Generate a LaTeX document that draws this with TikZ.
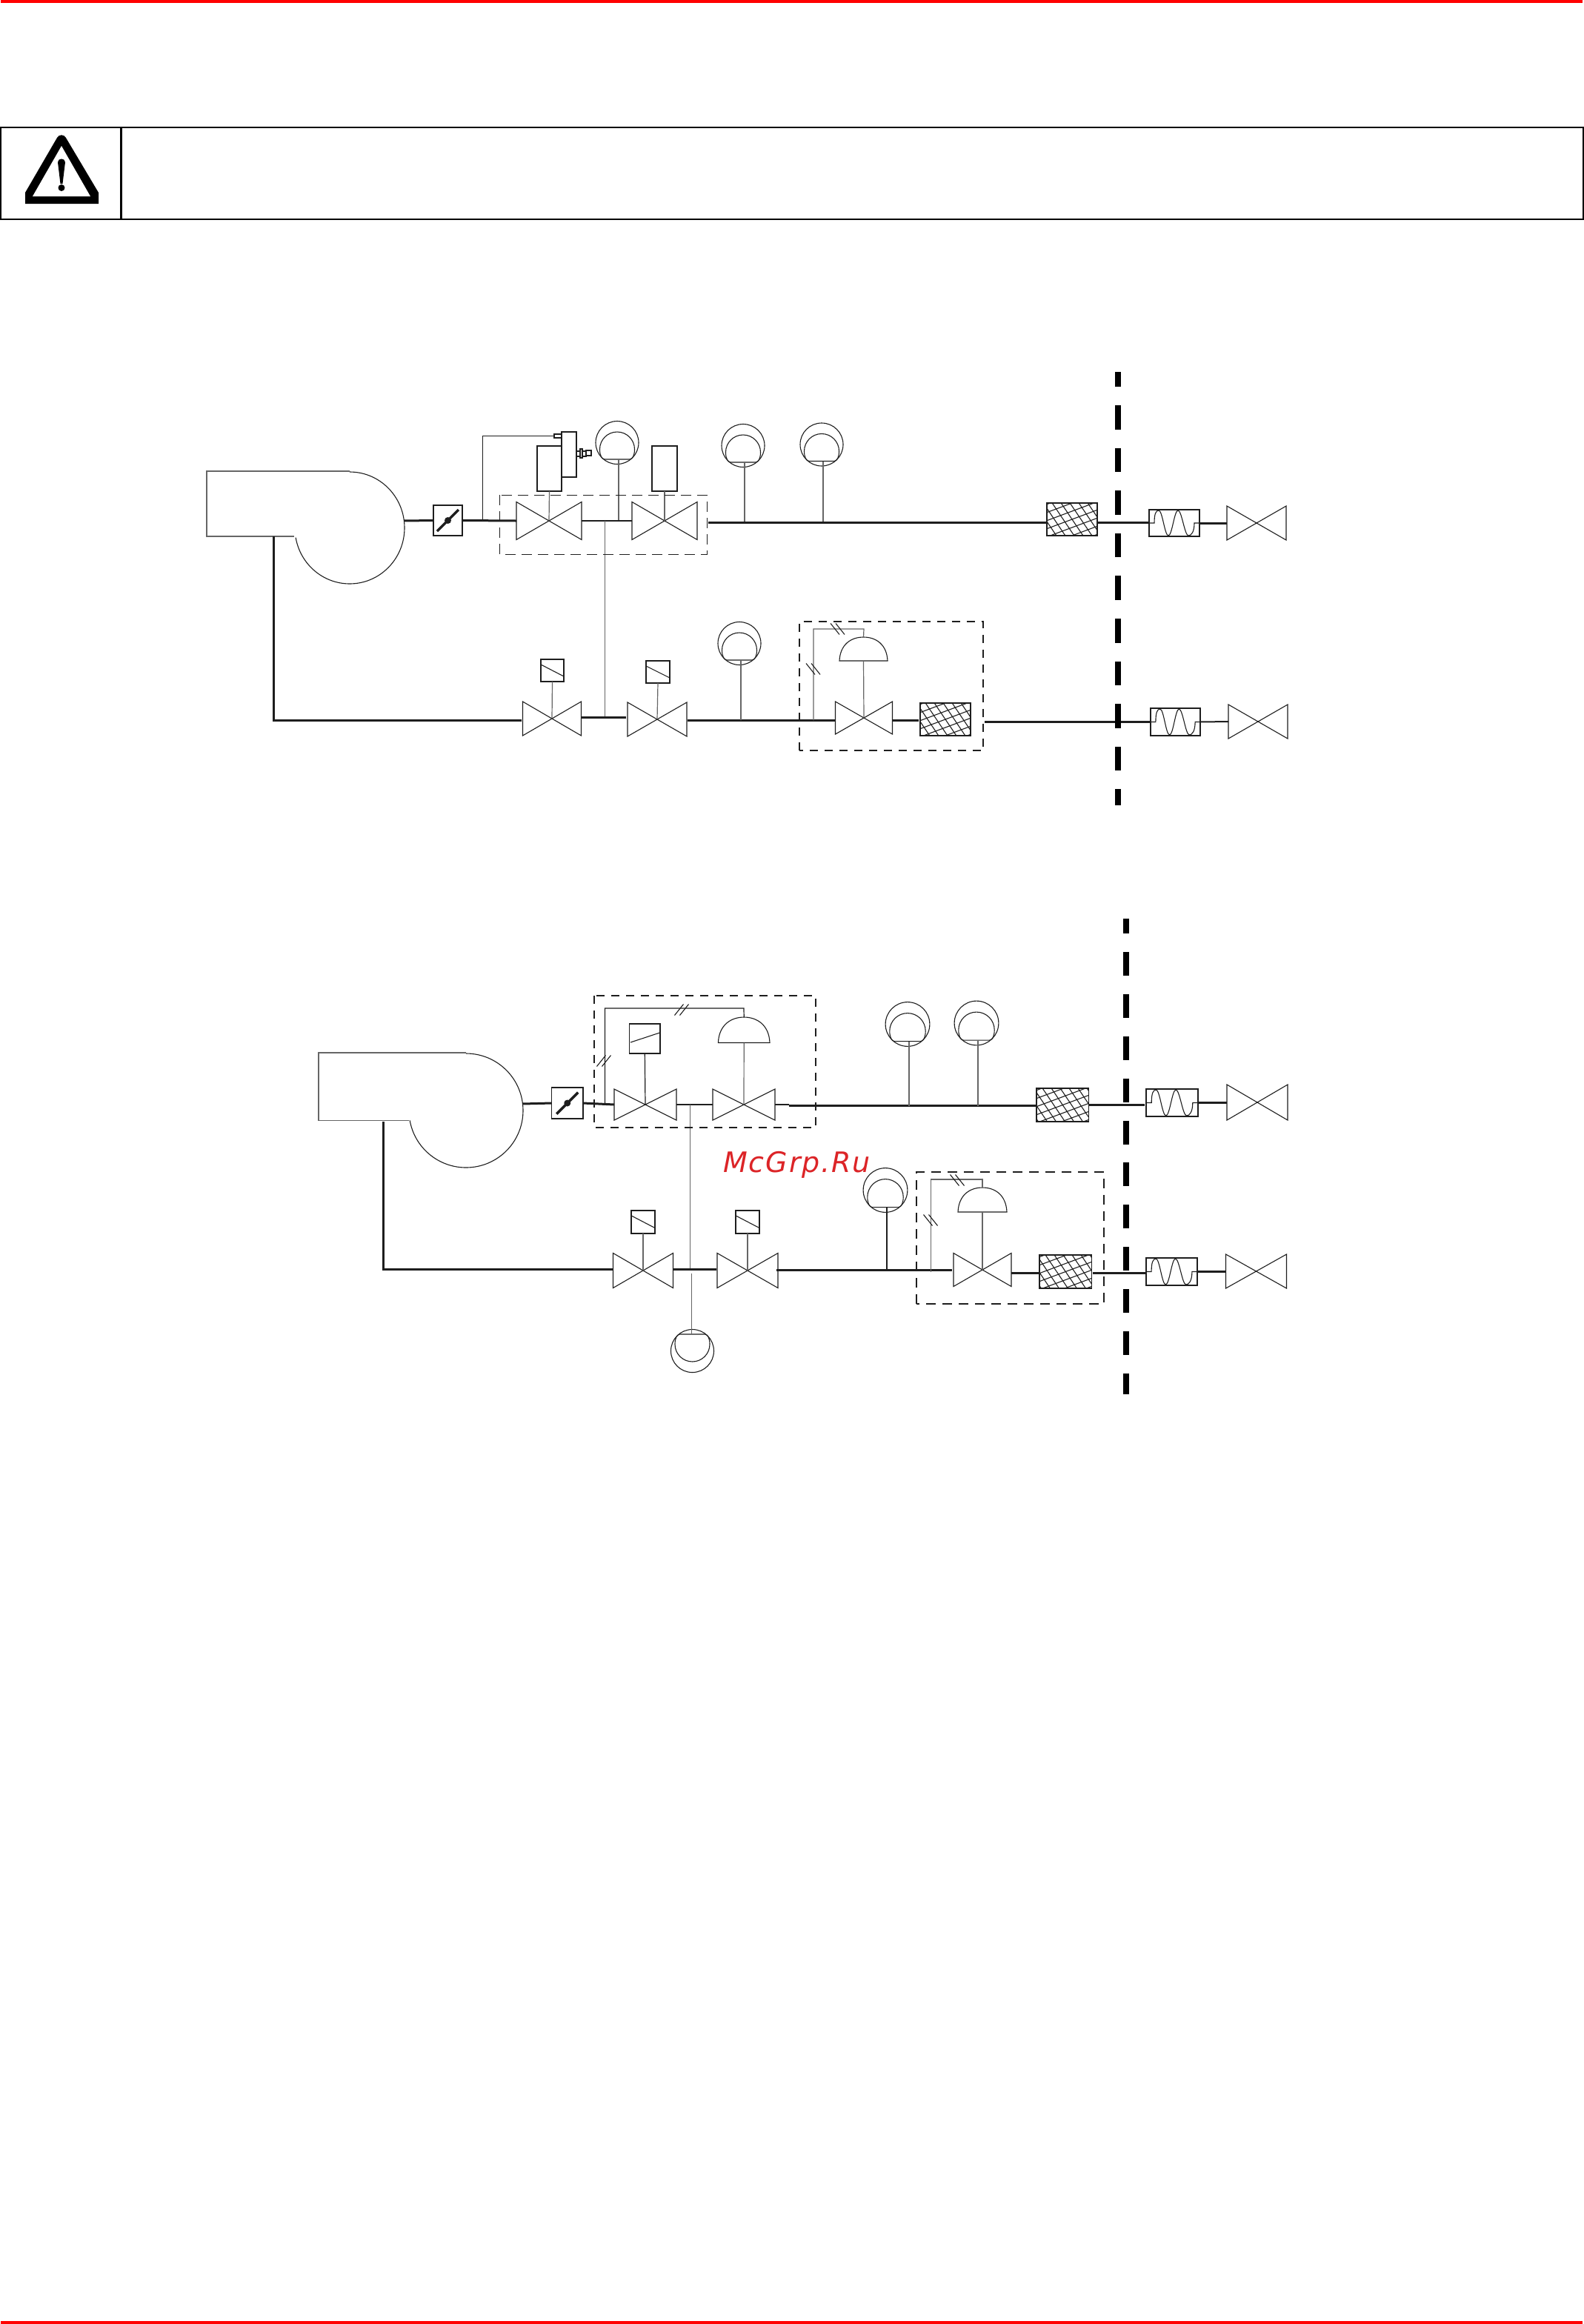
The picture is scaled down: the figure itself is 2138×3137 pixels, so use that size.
\documentclass[tikz,border=0pt]{standalone}
\usepackage{fontspec}
\newfontfamily\wmfont[LetterSpace=5]{DejaVu Sans}
\usetikzlibrary{calc}
\definecolor{ink}{HTML}{1E1E1E}
\definecolor{midg}{HTML}{666666}
\definecolor{rulered}{HTML}{FF0000}
\definecolor{wmred}{HTML}{DC2427}
\tikzset{
  part/.style={draw=ink,line width=1.1pt,line join=miter},
  partbox/.style={draw=ink,fill=white,line width=1.1pt,inner sep=0pt,outer sep=0pt,rectangle},
  stem/.style={draw=midg,line width=1.2pt},
  branch/.style={draw=ink,line width=1pt},
  thinlink/.style={draw=ink,line width=1.1pt},
  linkline/.style={draw=midg,line width=0.9pt},
  pipe/.style={draw=ink,line width=3pt},
  pipethin/.style={draw=ink,line width=2pt},
  casing/.style={draw=midg,line width=1.2pt},
  groupa/.style={draw=ink,line width=0.9pt,dash pattern=on 14pt off 8pt},
  groupb/.style={draw=ink,line width=2pt,dash pattern=on 11pt off 9pt},
  groupc/.style={draw=ink,line width=1.4pt,dash pattern=on 13pt off 9pt},
  limit/.style={draw=black,line width=8pt},
  header/.style={draw=black,line width=2pt,fill=none,inner sep=0pt,outer sep=0pt,rectangle},
}
\newcommand{\bxn}[5]{\node[partbox,minimum width={(#4-#2)*1pt},minimum height={(#5-#3)*1pt}] (#1) at ({(#2+#4)/2},{(#3+#5)/2}) {};}
\newcommand{\vlv}[5]{%
  \coordinate (#1) at (#2,#3);
  \coordinate (#1l) at ({#2-#4},#3);
  \coordinate (#1r) at ({#2+#4},#3);
  \draw[part,fill=white] ({#2-#4},{#3-#5}) -- ({#2+#4},{#3+#5}) -- ({#2+#4},{#3-#5}) -- ({#2-#4},{#3+#5}) -- cycle;}
% name, cx, cy, scale, flip(1 or -1)
\newcommand{\gge}[5]{%
  \coordinate (#1) at (#2,#3);
  \coordinate (#1s) at ({#2+2},{#3+#5*22.5*#4});
  \draw[part] (#2,#3) circle[radius={29*#4}];
  \begin{scope}[shift={(#2,#3)},xscale=#4,yscale={#4*#5}]
    \draw[part] (-17,22.5) -- (17,22.5) .. controls (21,22) and (23.5,17) .. (23.5,9)
      arc[start angle=0,end angle=-180,radius=23.5] .. controls (-23.5,17) and (-21,22) .. (-17,22.5);
  \end{scope}}
\newcommand{\fltr}[5]{%
  \bxn{#1}{#2}{#3}{#4}{#5}
  \begin{scope}
    \clip (#2,#3) rectangle (#4,#5);
    \path ({(#2+#4)/2},{(#3+#5)/2}) coordinate (tmpc);
    \foreach \k in {-6,...,6}{
      \draw[part] ($(tmpc)+({12*\k-29},-43)$) -- ($(tmpc)+({12*\k+29},43)$);
      \draw[part] ($(tmpc)+(-67,{11*\k+25})$) -- ($(tmpc)+(67,{11*\k-25})$);
    }
  \end{scope}
  \draw[part,line width=1.5pt] (#2,#3) rectangle (#4,#5);}
\newcommand{\flx}[5]{%
  \bxn{#1}{#2}{#3}{#4}{#5}
  \begin{scope}[shift={(#2,#3)},xscale={(#4-#2)/68},yscale={(#5-#3)/36}]
    \draw[part] (0,18) -- (7,18) .. controls (7,6) and (9,1) .. (13,1)
      .. controls (18,1) and (21,35) .. (26,35) .. controls (31,35) and (34,1) .. (39,1)
      .. controls (44,1) and (48,35) .. (53,35) .. controls (57,35) and (61,30) .. (61,18) -- (68,18);
  \end{scope}}
% name, x1, top, x2, base
\newcommand{\dme}[5]{%
  \coordinate (#1t) at ({(#2+#4)/2},#3);
  \coordinate (#1b) at ({(#2+#4)/2},#5);
  \draw[part,fill=white] (#2,#5) .. controls ({#2+1},{#3+10}) and ({(#2+#4)/2-17},#3) .. ({(#2+#4)/2},#3)
    .. controls ({(#2+#4)/2+17},#3) and ({#4-1},{#3+10}) .. (#4,#5) -- cycle;}
% cx, cy, sign
\newcommand{\tks}[3]{%
  \draw[part] ({#1-3.5-#3*6},{#2-7.5}) -- ({#1-3.5+#3*6},{#2+7.5});
  \draw[part] ({#1+3.5-#3*6},{#2-7.5}) -- ({#1+3.5+#3*6},{#2+7.5});}
\newcommand{\dmpr}[5]{%
  \bxn{#1}{#2}{#3}{#4}{#5}
  \draw[draw=ink,line width=3.5pt] ({(#2+#4)/2-14.5},{(#3+#5)/2+14.5}) -- ({(#2+#4)/2+14.5},{(#3+#5)/2-14.5});
  \fill[ink] ({(#2+#4)/2},{(#3+#5)/2}) circle[radius=4.5];}
% name, left, top, bottom, x top end, cx, radius, x end of scroll, (horizontal radius in #1)
\newcommand{\fan}[8]{%
  \draw[casing] (#5,#3) -- (#2,#3) -- (#2,#4) -- (#8,#4);
  \draw[part] (#5,{#3+1}) arc[start angle=-90,end angle=170,x radius=#1,y radius=#7];}
\begin{document}
\begin{tikzpicture}[x=1pt,y=-1pt]
\useasboundingbox (0,0) rectangle (2138,3137);
\fill[white] (0,0) rectangle (2138,3137);
% page rules
\coordinate (rt1) at (1,2); \coordinate (rt2) at (2136,2);
\coordinate (rb1) at (1,3135); \coordinate (rb2) at (2136,3135);
\draw[rulered,line width=4pt] (rt1) -- (rt2);
\draw[rulered,line width=4pt] (rb1) -- (rb2);
\begin{scope}[xshift=1pt]
% header
\node[header,minimum width=161.5pt,minimum height=124pt] (warncell) at (80.75,234) {};
\node[header,minimum width=1973.5pt,minimum height=124pt] (textcell) at (1149.25,234) {};
\fill[black] (33,275) -- (33,260) -- (76,186) .. controls (79,181) and (85,181) .. (88,186) -- (132,260) -- (132,275) -- cycle;
\fill[white] (82,197) -- (121,265) -- (43,265) -- cycle;
\fill[black] (77,219) .. controls (77,213) and (87,213) .. (87,219) -- (83.5,248) -- (80.5,248) -- cycle;
\fill[black] (82,253.5) circle[radius=4.5];

%%%%% DIAGRAM 1 %%%%%
\fan{74}{278}{636}{724}{471}{470}{75.5}{396}
\coordinate (f1r) at (544,703);
\coordinate (f1b) at (368.5,724);
\dmpr{d1}{584}{682}{623}{723}
\vlv{v1}{740}{703}{44}{25.5}
\vlv{v2}{896}{703}{44}{25.5}
\bxn{a2}{757}{583}{777}{644}
\bxn{a1}{724}{602}{757}{663}
\bxn{a3}{747}{586}{757}{591}
\bxn{a4}{777}{609}{790}{616}
\bxn{a5}{782}{606}{785}{618}
\bxn{a6}{790}{608}{797}{615}
\bxn{a7}{879}{602}{913}{663}
\gge{g1}{832}{597.5}{1}{1}
\coordinate (j0) at (650,703);
\draw[pipe] (f1r) -- (d1.west);
\draw[pipe] (d1.east) -- (v1l);
\draw[branch] (j0) |- (a3.west);
\draw[stem] (a1.south) -- (v1);
\draw[stem] (a7.south) -- (v2);
\draw[stem] (g1s) -- (g1s |- v1);
\draw[thinlink] (v1r) -- (v2l);
\coordinate (j1) at (815,703);
\coordinate (j2) at (815,968);
\draw[linkline] (j1) -- (j2);
\draw[groupa] (673,668) rectangle (953.5,748);
\coordinate (p1) at (955,705);
\gge{g2}{1002}{601.5}{1}{1}
\gge{g3}{1108}{600}{1}{1}
\draw[stem] (g2s) -- (g2s |- p1);
\draw[stem] (g3s) -- (g3s |- p1);
\fltr{fl1}{1412}{679}{1480}{723}
\flx{fx1}{1550}{688}{1618}{724}
\vlv{v3}{1695}{706}{40}{23}
\draw[pipe] (p1) -- (p1 -| fl1.west);
\draw[pipe] (p1 -| fl1.east) -- (p1 -| fx1.west);
\draw[pipe] (fx1.east) -- (v3l);
% lower line
\vlv{v4}{744}{970}{39.5}{23}
\vlv{v5}{886}{971}{40}{23}
\bxn{b4}{729}{890}{760}{920}
\bxn{b5}{871}{892}{903}{922}
\draw[part] (729,897) -- (760,913);
\draw[part] (871,899) -- (903,915);
\draw[stem] (b4.south) -- (v4);
\draw[stem] (b5.south) -- (v5);
\coordinate (c1) at (703,972);
\draw[pipe] (f1b) |- (c1);
\coordinate (m1) at (784,968); \coordinate (m2) at (844,968);
\draw[pipe] (m1) -- (m2);
\coordinate (c2) at (927,972); \coordinate (c3) at (1127,972);
\draw[pipe] (c2) -- (c3);
\gge{g4}{997}{868.5}{1}{1}
\draw[stem] (g4s) -- (g4s |- c2);
\vlv{v6}{1165}{969}{38.5}{22}
\dme{dm1}{1132}{860}{1197}{892}
\coordinate (j3) at (1097,972);
\coordinate (j3a) at (1165,849);
\draw[stem] (j3) |- (j3a) -- (dm1t);
\draw[stem] (dm1b) -- (v6);
\tks{1129.5}{849}{1}
\tks{1096.5}{903}{1}
\fltr{fl2}{1241}{949}{1309}{993}
\coordinate (c4) at (1204,972); \coordinate (c5) at (1239,972);
\draw[pipe] (c4) -- (c5);
\flx{fx2}{1552}{956}{1619}{993}
\coordinate (c6) at (1328,974);
\draw[pipe] (c6) -- (c6 -| fx2.west);
\vlv{v7}{1697}{974}{40}{23}
\draw[pipethin] (fx2.east) -- (v7l);
\draw[groupb] (1077.5,1013) -- (1077.5,839) -- (1326,839) -- (1326,1013) -- cycle;
\coordinate (lim1a) at (1508,502); \coordinate (lim1b) at (1508,1087);
\draw[limit,dash pattern=on 32.5pt off 25.1pt,dash phase=12.6pt] (lim1a) -- (lim1b);

%%%%% DIAGRAM 2 %%%%%
\fan{77}{429}{1421}{1512.5}{628}{627}{77}{550.6}
\coordinate (f2r) at (704,1490);
\coordinate (f2b) at (516.6,1514);
\dmpr{d2}{743.5}{1468}{786}{1510}
\vlv{v8}{870}{1491}{42}{21}
\vlv{v9}{1003}{1491}{42}{21}
\bxn{b8}{848.6}{1382}{890}{1422}
\draw[part] (850,1407) -- (889.5,1394);
\draw[stem,draw=ink] (b8.south) -- (v8);
\dme{dm2}{968.4}{1373}{1038}{1407.5}
\draw[stem] (dm2b) -- (v9);
\coordinate (j4) at (815.5,1490);
\coordinate (j4a) at (1003,1361);
\draw[pipe] (f2r) -- (d2.west);
\draw[pipe] (d2.east) -- (v8l);
\draw[stem,draw=ink] (j4) |- (j4a) -- (dm2t);
\tks{919}{1363}{-1}
\tks{814}{1432}{-1}
\draw[thinlink] (v8r) -- (v9l);
\coordinate (e1) at (1064,1492.5); \coordinate (e2) at (1398,1492.5);
\draw[thinlink] (v9r) -- (e1 |- v9r);
\draw[pipe] (e1) -- (e2);
\coordinate (j5) at (930,1491); \coordinate (j6) at (930,1712);
\draw[linkline] (j5) -- (j6);
\draw[groupb] (801,1344) rectangle (1100,1522);
\gge{g5}{1224}{1382.5}{1.03}{1}
\gge{g6}{1317}{1381}{1.03}{1}
\draw[stem] (g5s) -- (g5s |- e1);
\draw[stem] (g6s) -- (g6s |- e1);
\fltr{fl3}{1398}{1469}{1468.6}{1514}
\flx{fx3}{1546}{1470}{1616}{1507}
\vlv{v12}{1696}{1488}{41}{24}
\coordinate (e3) at (1468.6,1491); \coordinate (e4) at (1544,1491);
\draw[pipe] (e3) -- (e4);
\coordinate (e5) at (1616,1488);
\draw[pipe] (e5) -- (v12l);
% lower line
\vlv{v10}{867}{1715}{40.5}{23.5}
\vlv{v11}{1008}{1715}{41}{23.5}
\bxn{b10}{851}{1634}{883}{1665}
\bxn{b11}{992}{1634}{1024}{1665}
\draw[part] (852,1641.4) -- (882,1657);
\draw[part] (993,1641.4) -- (1023,1657);
\draw[stem] (b10.south) -- (v10);
\draw[stem] (b11.south) -- (v11);
\coordinate (h1) at (826.5,1713.6);
\draw[pipe] (f2b) |- (h1);
\coordinate (h2) at (907,1713.6); \coordinate (h3) at (966,1713.6);
\draw[pipe] (h2) -- (h3);
\coordinate (h4) at (1047,1714); \coordinate (h5) at (1284,1714);
\draw[pipe] (h4) -- (h5);
\gge{g8}{933.5}{1823.5}{1}{-1}
\coordinate (k1) at (932.6,1719);
\coordinate (k2) at (932.6,1801);
\draw[stem] (k1) -- (k2);
\gge{g7}{1194}{1606.5}{1.03}{1}
\draw[stem,draw=ink] (g7s) -- (g7s |- h5);
\vlv{v13}{1325}{1714}{39}{22.5}
\dme{dm3}{1292}{1603}{1358}{1636}
\draw[stem] (dm3b) -- (v13);
\coordinate (j7) at (1255.7,1717);
\coordinate (j7a) at (1325,1592);
\draw[stem] (j7) |- (j7a) -- (dm3t);
\tks{1291}{1593}{1}
\tks{1255}{1647}{1}
\fltr{fl4}{1402}{1694}{1472.5}{1739}
\flx{fx4}{1546}{1698}{1615}{1735}
\vlv{v14}{1694.5}{1716}{41}{23}
\coordinate (q1) at (1364,1718); \coordinate (q2) at (1400.5,1718);
\coordinate (q3) at (1474,1718); \coordinate (q4) at (1546,1718);
\coordinate (q5) at (1615,1716);
\draw[pipe] (q1) -- (q2);
\draw[pipe] (q3) -- (q4);
\draw[pipe] (q5) -- (v14l);
\draw[groupc] (1236,1760) -- (1236,1582) -- (1489,1582) -- (1489,1760) -- cycle;
\coordinate (lim2a) at (1519,1240); \coordinate (lim2b) at (1519,1882);
\draw[limit,dash pattern=on 32pt off 24.9pt,dash phase=12pt] (lim2a) -- (lim2b);
% watermark
\node[anchor=base west,inner sep=0pt,text=wmred,font={\wmfont\itshape\fontsize{38}{40}\selectfont}] (wm) at (975,1582) {McGrp.Ru};
\end{scope}
\end{tikzpicture}
\end{document}
